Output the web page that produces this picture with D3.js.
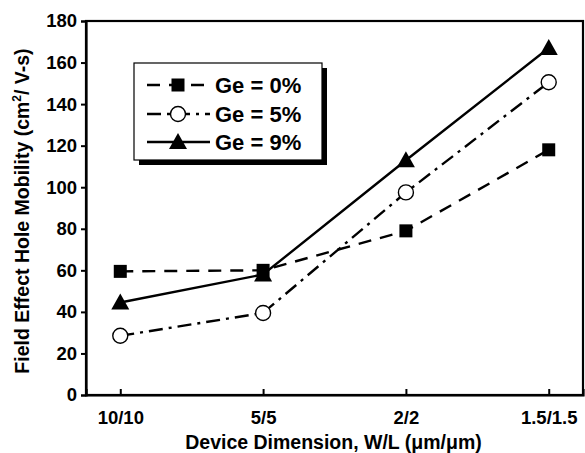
<!DOCTYPE html>
<html>
<head>
<meta charset="utf-8">
<script src="https://cdn.jsdelivr.net/npm/d3@7"></script>
<style>
  body { margin: 0; background: #fff; }
  text { font-family: "Liberation Sans", Arial, sans-serif; font-weight: bold; fill: #000; }
</style>
</head>
<body>
<div id="content"></div>
<script>
// Data.
var categories = ['10/10', '5/5', '2/2', '1.5/1.5'];
var ge0 = [59.5, 60, 79, 118];
var ge5 = [28.5, 39.5, 97.5, 150.5];
var ge9 = [44.5, 58, 113, 167];
var seriesNames = ['Ge = 0%', 'Ge = 5%', 'Ge = 9%'];
var yTicks = [0, 20, 40, 60, 80, 100, 120, 140, 160, 180];

// SVG dimensions.
var W = 585, H = 453;
var margin = {left : 86, right : 2, top : 21, bottom : 58};
var width = W - margin.left - margin.right;
var height = H - margin.top - margin.bottom;

var svg = d3.select('#content')
              .append('svg')
              .attr('width', W)
              .attr('height', H);

var g = svg.append('g').attr('transform', 'translate(' + margin.left + ',' + margin.top + ')');

var x = d3.scalePoint().domain(categories).range([0, width]).padding(0.24);
var y = d3.scaleLinear().domain([0, 180]).range([height, 0]);

// Styles per series.
var series = [
  {name : seriesNames[0], values : ge0, dash : '13,9', marker : 'square'},
  {name : seriesNames[1], values : ge5, dash : '14,6,3,6', marker : 'circle'},
  {name : seriesNames[2], values : ge9, dash : null, marker : 'triangle'}
];

// Frame.
g.append('rect')
    .attr('x', 0).attr('y', 0)
    .attr('width', width).attr('height', height)
    .attr('fill', 'none').attr('stroke', '#000').attr('stroke-width', 2.2);

// Y axis.
var yAxis = g.append('g')
    .call(d3.axisLeft(y).tickValues(yTicks).tickSize(5).tickPadding(4));
yAxis.select('.domain').attr('stroke-width', 2.2);
yAxis.selectAll('.tick line').attr('stroke-width', 2);
yAxis.selectAll('.tick text').style('font-size', '18.5px').attr('fill', '#000');

// X axis, ticks pointing inward.
var xAxis = g.append('g')
    .attr('transform', 'translate(0,' + height + ')')
    .call(d3.axisBottom(x).tickSize(-6).tickPadding(16));
xAxis.select('.domain').attr('stroke-width', 2.2);
xAxis.selectAll('.tick line').attr('stroke-width', 2);
xAxis.selectAll('.tick text').style('font-size', '18.5px').attr('fill', '#000');

// Axis titles.
svg.append('text')
    .attr('x', margin.left + width / 2 - 1)
    .attr('y', 449)
    .attr('text-anchor', 'middle')
    .style('font-size', '19.5px')
    .text('Device Dimension, W/L (\u03bcm/\u03bcm)');

svg.append('text')
    .attr('transform', 'translate(29,' + 211 + ') rotate(-90)')
    .attr('text-anchor', 'middle')
    .style('font-size', '19.5px')
    .html('Field Effect Hole Mobility (cm<tspan dy="-8" font-size="12px">2</tspan><tspan dy="8">/ V-s)</tspan>');

// Marker drawing.
function drawMarker(sel, type) {
  if (type === 'square') {
    sel.append('rect').attr('x', -6.5).attr('y', -6.5).attr('width', 13).attr('height', 13)
        .attr('fill', '#000');
  } else if (type === 'circle') {
    sel.append('circle').attr('r', 7.5).attr('fill', '#fff')
        .attr('stroke', '#000').attr('stroke-width', 1.4);
  } else {
    sel.append('path').attr('d', 'M0,-9L9,7L-9,7Z').attr('fill', '#000');
  }
}

var line = d3.line()
    .x(function(d, i) { return x(categories[i]); })
    .y(function(d) { return y(d); });

series.forEach(function(s) {
  g.append('path')
      .datum(s.values)
      .attr('fill', 'none')
      .attr('stroke', '#000')
      .attr('stroke-width', 2.4)
      .attr('stroke-dasharray', s.dash)
      .attr('d', line);
});

series.forEach(function(s) {
  s.values.forEach(function(v, i) {
    var m = g.append('g')
        .attr('transform', 'translate(' + x(categories[i]) + ',' + y(v) + ')');
    drawMarker(m, s.marker);
  });
});

// Legend.
var lg = svg.append('g').attr('transform', 'translate(134,63)');
lg.append('rect').attr('x', 5).attr('y', 5).attr('width', 188).attr('height', 97).attr('fill', '#000');
lg.append('rect').attr('x', 0).attr('y', 0).attr('width', 188).attr('height', 97)
    .attr('fill', '#fff').attr('stroke', '#000').attr('stroke-width', 1.2);

var rowY = [22, 51, 79];
series.forEach(function(s, i) {
  var r = lg.append('g').attr('transform', 'translate(0,' + rowY[i] + ')');
  r.append('line').attr('x1', 13).attr('x2', 76).attr('y1', 0).attr('y2', 0)
      .attr('stroke', '#000').attr('stroke-width', 2.4)
      .attr('stroke-dasharray', s.dash);
  var m = r.append('g').attr('transform', 'translate(44,0)');
  drawMarker(m, s.marker);
  r.append('text').attr('x', 81).attr('y', 8)
      .style('font-size', '22px')
      .text(s.name);
});
</script>
</body>
</html>
